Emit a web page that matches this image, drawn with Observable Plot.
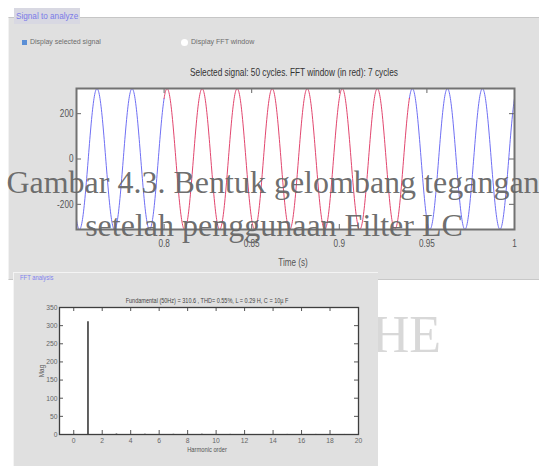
<!DOCTYPE html>
<html><head><meta charset="utf-8">
<script src="https://cdn.jsdelivr.net/npm/d3@7"></script>
<script src="https://cdn.jsdelivr.net/npm/@observablehq/plot@0.6"></script>
<style>
body{margin:0;background:#fff;}
#root{position:relative;width:539px;height:466px;overflow:hidden;background:#fff;font-family:"Liberation Sans Narrow","Arial Narrow","Liberation Sans",sans-serif;}
.abs{position:absolute;white-space:nowrap;}
</style></head><body><div id="root"></div>
<script>
// ---- data ----
const signalAmplitude = 310.6;      // V, fundamental (from FFT title)
const signalFreqHz = 50;            // Hz
const signalPeakDelay = 0.0017;     // s, first peak after each 20 ms boundary
const timeDomain = [0.75, 1];
const fftWindow = [0.8, 0.94];      // 7 cycles in red
const timeTicks = [0.8, 0.85, 0.9, 0.95, 1];
const timeTickLabels = ["0.8", "0.85", "0.9", "0.95", "1"];
const voltDomain = [-311, 311];
const voltTicks = [-200, 0, 200];
const voltTickLabels = ["-200", "0", "200"];

const harmonicOrder = [0, 1, 2, 3, 4, 5, 6, 7, 8, 9, 10, 11, 12, 13, 14, 15, 16, 17, 18, 19, 20];
const harmonicMag   = [0.3, 310.6, 0.1, 1.2, 0.1, 0.8, 0.1, 0.5, 0.1, 0.4, 0.1, 0.3, 0.1, 0.3, 0.1, 0.2, 0.1, 0.2, 0.1, 0.1, 0.1];
const harmonicTicks = [0, 2, 4, 6, 8, 10, 12, 14, 16, 18, 20];
const magTicks = [0, 50, 100, 150, 200, 250, 300, 350];

const topTitle = "Selected signal: 50 cycles. FFT window (in red): 7 cycles";
const fftTitle = "Fundamental (50Hz) = 310.6 , THD= 0.55%, L = 0.29 H, C = 10\u00b5 F";
const captionLines = ["Gambar 4.3. Bentuk gelombang tegangan", "setelah penggunaan Filter LC"];

// ---- build signal samples from the read parameters ----
const dt = 0.0002;
const samples = [];
for (let i = 0; ; i++) {
  const t = timeDomain[0] + i * dt;
  if (t > timeDomain[1] + 1e-9) break;
  const v = signalAmplitude * Math.cos(2 * Math.PI * signalFreqHz * (t - signalPeakDelay));
  samples.push({t, v});
}
const eps = 1e-9;
const blueSeg = [];
samples.forEach(d => {
  if (d.t <= fftWindow[0] + eps) blueSeg.push({...d, seg: "before"});
  if (d.t >= fftWindow[1] - eps) blueSeg.push({...d, seg: "after"});
});
const redSeg = samples.filter(d => d.t >= fftWindow[0] - eps && d.t <= fftWindow[1] + eps);
const harmonics = harmonicOrder.map((h, i) => ({h, mag: harmonicMag[i]}));

const root = document.getElementById("root");
function add(html) { root.insertAdjacentHTML("beforeend", html); }
// left-anchored condensed text
function lbl(x, y, size, color, sx, text) {
  add(`<div class="abs" style="left:${x}px;top:${y}px;font-size:${size}px;color:${color};transform-origin:0 0;transform:scaleX(${sx})">${text}</div>`);
}
// centred condensed text
function clbl(x, y, size, color, sx, text, rot = 0) {
  add(`<div class="abs" style="left:${x}px;top:${y}px;font-size:${size}px;color:${color};transform:translate(-50%,-50%) rotate(${rot}deg) scaleX(${sx})">${text}</div>`);
}
function condense(svg, sx) {
  svg.querySelectorAll('g[aria-label$="tick label"] text').forEach(t => {
    const x = +(t.getAttribute("x") || 0);
    const tr = t.getAttribute("transform") || "";
    t.setAttribute("transform", `${tr} translate(${x},0) scale(${sx},1) translate(${-x},0)`);
  });
}

// ---- background watermark + panels ----
add(`<svg class="abs" style="left:0;top:0" width="539" height="466">
  <text x="441" y="352" text-anchor="end" font-family="Liberation Serif" font-size="52" fill="#d8d8d8">THE</text>
</svg>`);
add(`<div class="abs" style="left:8px;top:17px;width:531px;height:263px;background:#e0e0e0;border-top:1px solid #c6c6c6;border-left:1px solid #f2f2f2;border-bottom:1px solid #c8c8c8;box-sizing:border-box"></div>`);
add(`<div class="abs" style="left:14px;top:8px;width:66px;height:16px;background:#d8d8e2"></div>`);
lbl(16, 10, 9.5, "#7b7be8", 0.86, "Signal to analyze");
add(`<div class="abs" style="left:22px;top:40px;width:5px;height:5px;background:#5b8fd6"></div>`);
lbl(30, 37, 8, "#6c6c6c", 0.87, "Display selected signal");
add(`<div class="abs" style="left:181px;top:39px;width:7px;height:7px;background:#fff;border-radius:50%"></div>`);
lbl(191, 37, 8, "#6c6c6c", 0.88, "Display FFT window");
clbl(294, 72, 11.5, "#333", 0.72, topTitle);
clbl(293, 262, 11, "#555", 0.74, "Time (s)");

add(`<div class="abs" style="left:13px;top:272px;width:365px;height:194px;background:#e0e0e0;border-top:1px solid #f4f4f4;border-left:1px solid #f4f4f4;box-sizing:border-box"></div>`);
lbl(20, 273, 7.5, "#8080ee", 0.78, "FFT analysis");
clbl(207, 300, 8, "#444", 0.69, fftTitle);
clbl(41, 371, 7.5, "#555", 0.85, "Mag", -90);
clbl(207, 449, 8, "#555", 0.72, "Harmonic order");

const fontStack = "'Liberation Sans Narrow','Arial Narrow','Liberation Sans',sans-serif";

// ---- top chart ----
const W1 = 539, H1 = 280, ml1 = 76, mr1 = 25, mt1 = 88, mb1 = 51;
const pw1 = W1 - ml1 - mr1, ph1 = H1 - mt1 - mb1;
const tl = 5;
const topChart = Plot.plot({
  width: W1, height: H1, marginLeft: ml1, marginRight: mr1, marginTop: mt1, marginBottom: mb1,
  style: {background: "transparent", fontFamily: fontStack, fontSize: "10.5px", color: "#555"},
  x: {domain: timeDomain, ticks: timeTicks, tickFormat: (d, i) => timeTickLabels[i], tickSize: 0, tickPadding: 10, label: null},
  y: {domain: voltDomain, ticks: voltTicks, tickFormat: (d, i) => voltTickLabels[i], tickSize: 0, tickPadding: 3, label: null},
  marks: [
    Plot.frame({fill: "white", stroke: "none"}),
    Plot.line(blueSeg, {x: "t", y: "v", z: "seg", stroke: "#6f6ff4", strokeWidth: 1}),
    Plot.line(redSeg, {x: "t", y: "v", stroke: "#e2466e", strokeWidth: 1}),
    Plot.ruleX(timeTicks, {x: d => d, insetTop: ph1 - tl, stroke: "#666"}),
    Plot.ruleX(timeTicks, {x: d => d, insetBottom: ph1 - tl, stroke: "#666"}),
    Plot.ruleY(voltTicks, {y: d => d, insetRight: pw1 - tl, stroke: "#666"}),
    Plot.ruleY(voltTicks, {y: d => d, insetLeft: pw1 - tl, stroke: "#666"}),
    Plot.frame({stroke: "#727272", strokeWidth: 2})
  ]
});
condense(topChart, 0.78);
topChart.style.position = "absolute"; topChart.style.left = "0px"; topChart.style.top = "0px";
root.appendChild(topChart);

// ---- FFT chart ----
const W2 = 380, H2 = 186, ml2 = 59, mr2 = 22, mt2 = 27, mb2 = 32;
const pw2 = W2 - ml2 - mr2, ph2 = H2 - mt2 - mb2;
const tl2 = 4;
const fftChart = Plot.plot({
  width: W2, height: H2, marginLeft: ml2, marginRight: mr2, marginTop: mt2, marginBottom: mb2,
  style: {background: "transparent", fontFamily: fontStack, fontSize: "7.5px", color: "#666"},
  x: {domain: [-1, 20], ticks: harmonicTicks, tickSize: 0, tickPadding: 3, label: null},
  y: {domain: [0, 350], ticks: magTicks, tickSize: 0, tickPadding: 2, label: null},
  marks: [
    Plot.frame({fill: "white", stroke: "none"}),
    Plot.ruleX(harmonics, {x: "h", y1: 0, y2: "mag", stroke: "#3a3a3a", strokeWidth: 1.6}),
    Plot.ruleX(harmonicTicks, {x: d => d, insetTop: ph2 - tl2, stroke: "#555"}),
    Plot.ruleX(harmonicTicks, {x: d => d, insetBottom: ph2 - tl2, stroke: "#555"}),
    Plot.ruleY(magTicks, {y: d => d, insetRight: pw2 - tl2, stroke: "#555"}),
    Plot.ruleY(magTicks, {y: d => d, insetLeft: pw2 - tl2, stroke: "#555"}),
    Plot.frame({stroke: "#3e3e3e", strokeWidth: 1.3})
  ]
});
condense(fftChart, 0.9);
fftChart.style.position = "absolute"; fftChart.style.left = "0px"; fftChart.style.top = "280px";
root.appendChild(fftChart);

// ---- caption overlay ----
add(`<svg class="abs" style="left:0;top:0;pointer-events:none" width="539" height="466">
  <text x="273" y="193" text-anchor="middle" font-family="Liberation Serif" font-size="32" fill="#666" fill-opacity="0.95">${captionLines[0]}</text>
  <text x="274" y="236" text-anchor="middle" font-family="Liberation Serif" font-size="32" fill="#666" fill-opacity="0.95">${captionLines[1]}</text>
</svg>`);
</script></body></html>
